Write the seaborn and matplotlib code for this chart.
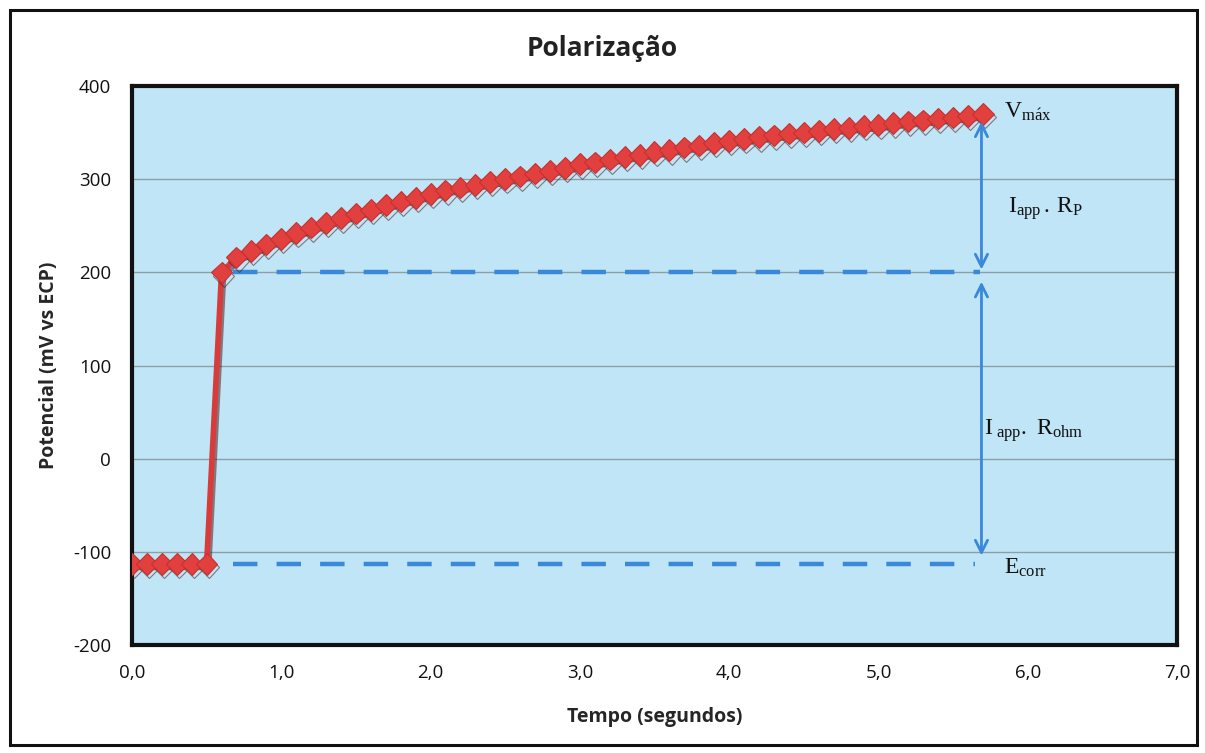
import numpy as np
import pandas as pd
import matplotlib
matplotlib.use("Agg")
import matplotlib.pyplot as plt
import matplotlib.patheffects as pe
from matplotlib.patches import Rectangle
import seaborn as sns

# Polarization curve: potential (mV vs ECP) against time (s)
tempo = [0.0, 0.1, 0.2, 0.3, 0.4, 0.5,
         0.6, 0.7, 0.8, 0.9, 1.0, 1.1, 1.2, 1.3, 1.4, 1.5,
         1.6, 1.7, 1.8, 1.9, 2.0, 2.1, 2.2, 2.3, 2.4, 2.5,
         2.6, 2.7, 2.8, 2.9, 3.0, 3.1, 3.2, 3.3, 3.4, 3.5,
         3.6, 3.7, 3.8, 3.9, 4.0, 4.1, 4.2, 4.3, 4.4, 4.5,
         4.6, 4.7, 4.8, 4.9, 5.0, 5.1, 5.2, 5.3, 5.4, 5.5,
         5.6, 5.7]
potencial = [-113, -113, -113, -113, -113, -113,
             200, 216, 223, 230, 236, 242, 248, 253, 258, 263,
             267, 272, 276, 280, 284, 288, 291, 294, 297, 300,
             303, 306, 309, 312, 316, 318, 321, 324, 326, 329,
             331, 334, 336, 339, 341, 343, 345, 347, 349, 350,
             352, 354, 355, 357, 358, 360, 362, 363, 365, 366,
             368, 370]

e_corr = -113
e_step = 200
v_max = 370

x_ticks = [0, 1, 2, 3, 4, 5, 6, 7]
y_ticks = [-200, -100, 0, 100, 200, 300, 400]

sns.set_theme(style="white")
plt.rcParams["font.family"] = ["Open Sans", "DejaVu Sans"]
plt.rcParams["mathtext.fontset"] = "custom"
plt.rcParams["mathtext.rm"] = "Liberation Serif"
plt.rcParams["mathtext.it"] = "Liberation Serif"

fig = plt.figure(figsize=(12.05, 7.53), dpi=100)
fig.patch.set_facecolor("white")
ax = fig.add_axes([0.1095, 0.1434, 0.8673, 0.7424])
ax.set_facecolor("#BFE5F6")

df = pd.DataFrame({"Tempo": tempo, "Potencial": potencial})

# Reference levels (dashed)
blue = "#3A88D8"
ax.plot([0.68, 5.68], [e_step, e_step], ls=(0, (5.5, 4.3)), color=blue, lw=3.2, zorder=3)
ax.plot([0.68, 5.65], [e_corr, e_corr], ls=(0, (5.5, 4.3)), color=blue, lw=3.2, zorder=3)

# Main series
sns.lineplot(data=df, x="Tempo", y="Potencial", ax=ax, color="#D93A3A",
             lw=4, marker="D", markersize=11, markerfacecolor="#E2403E",
             markeredgecolor="#C83030", markeredgewidth=0.8, zorder=5,
             path_effects=[pe.SimpleLineShadow(offset=(1.5, -2.5), alpha=0.55, shadow_color="#4A2020"),
                           pe.Normal()])

# Double arrows marking the potential drops
arrow_kw = dict(arrowstyle="<->", color=blue, lw=2, mutation_scale=22, shrinkA=0, shrinkB=0)
ax.annotate("", xy=(5.69, 362), xytext=(5.69, 203), arrowprops=arrow_kw, zorder=6)
ax.annotate("", xy=(5.69, 190), xytext=(5.69, -104), arrowprops=arrow_kw, zorder=6)

tkw = dict(fontsize=17, color="#111111", va="center", ha="left", zorder=7)
ax.text(5.84, 372, r"$\mathrm{V_{m\acute{a}x}}$", **tkw)
ax.text(5.87, 268, r"$\mathrm{I_{app}\,.\,R_{P}}$", **tkw)
ax.text(5.71, 30, r"$\mathrm{I_{\ app}.\ R_{ohm}}$", **tkw)
ax.text(5.84, -117, r"$\mathrm{E_{corr}}$", **tkw)

ax.set_xlim(0, 7)
ax.set_ylim(-200, 400)
ax.set_xticks(x_ticks)
ax.set_xticklabels([f"{v:.1f}".replace(".", ",") for v in x_ticks], fontsize=13.5)
ax.set_yticks(y_ticks)
ax.set_yticklabels([str(v) for v in y_ticks], fontsize=13.5)
ax.tick_params(axis="x", length=0, pad=14, colors="#111111")
ax.tick_params(axis="y", length=0, pad=15, colors="#111111")
ax.yaxis.grid(True, color="#8C9EA6", lw=1)
ax.xaxis.grid(False)
ax.set_axisbelow(True)
for s in ax.spines.values():
    s.set_color("#111111")
    s.set_linewidth(3)

ax.set_xlabel("Tempo (segundos)", fontsize=14, fontweight="bold", labelpad=18)
ax.set_ylabel("Potencial (mV vs ECP)", fontsize=14, fontweight="bold", labelpad=10)
fig.text(0.5, 0.935, "Polarização", ha="center", va="center", fontsize=19,
         fontweight="bold", color="#222222")

# Outer chart frame
fig.patches.append(Rectangle((10 / 1205, 8 / 753), 1187 / 1205, 735 / 753,
                             transform=fig.transFigure, fill=False,
                             edgecolor="#111111", lw=2.2))

fig.savefig("out.png", dpi=100)
